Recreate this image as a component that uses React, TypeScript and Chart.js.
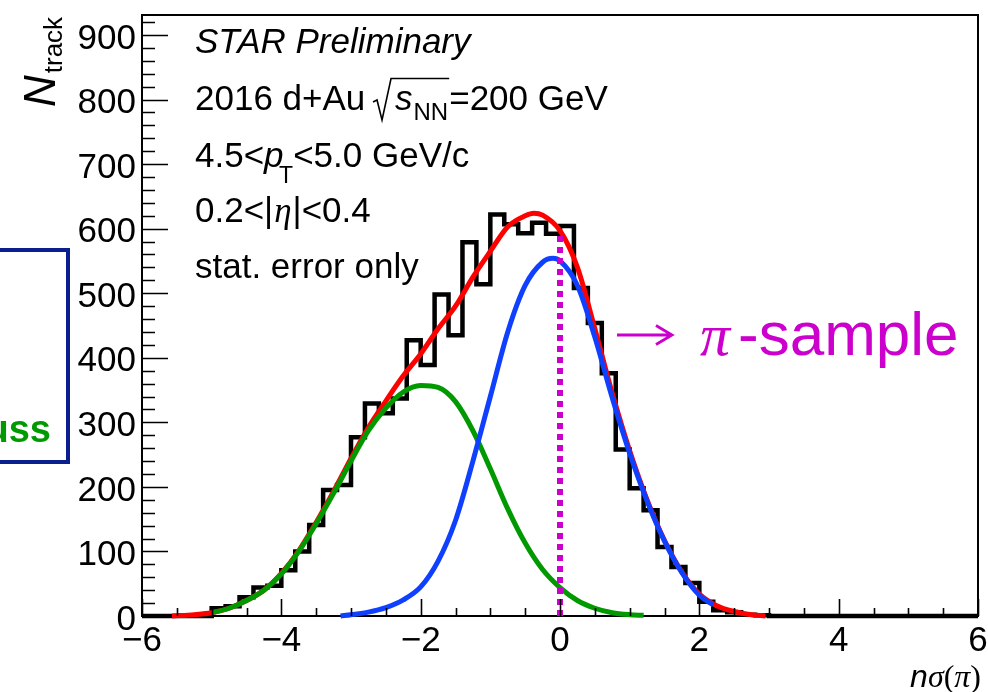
import React, { useEffect, useRef } from 'react';
import { Chart, registerables } from 'chart.js';

Chart.register(...registerables);

// ---------------- data ----------------
const BIN_START = -6;
const BIN_WIDTH = 0.2;
// counts per 0.2-wide bin from -6.0 to 6.0 (60 bins)
const COUNTS = [
  0, 0, 0, 0, 0,
  12, 15, 29, 44, 47, 71, 100, 141, 195, 203,
  277, 329, 314, 337, 427, 389, 498, 435, 579, 514,
  622, 607, 593, 609, 592, 604, 508, 454, 376, 258,
  198, 164, 107, 76, 51, 22, 9, 6, 2, 1,
  0, 0, 0, 0, 0, 0, 0, 0, 0, 0, 0, 0, 0, 0, 0,
];

const RED_X = [-5.57, -5.25, -5.0, -4.75, -4.5, -4.25, -4.0, -3.75, -3.5, -3.25, -3.0, -2.75, -2.5, -2.25, -2.0, -1.75, -1.5, -1.25, -1.0, -0.75, -0.5, -0.375, -0.25, 0.0, 0.25, 0.5, 0.75, 1.0, 1.25, 1.5, 1.75, 2.0, 2.25, 2.5, 2.75, 2.95];
const RED_Y = [0, 2, 5, 12, 24, 40, 66, 101, 145, 193, 244, 292, 333, 372, 406, 445, 480, 525, 565, 603, 620, 624, 621, 597, 540, 445, 345, 256, 180, 117, 68, 34, 16, 7, 2, 0];

const GREEN_X = [-5.0, -4.75, -4.5, -4.25, -4.0, -3.75, -3.5, -3.25, -3.0, -2.75, -2.5, -2.25, -2.0, -1.75, -1.5, -1.25, -1.0, -0.75, -0.5, -0.25, 0.0, 0.25, 0.5, 0.75, 1.0, 1.2];
const GREEN_Y = [5, 12, 24, 40, 65, 100, 143, 190, 240, 287, 322, 347, 357, 354, 332, 287, 228, 166, 113, 72, 44, 24, 12, 5, 2, 1];

const BLUE_X = [-3.15, -3.0, -2.75, -2.5, -2.25, -2.0, -1.75, -1.5, -1.25, -1.0, -0.75, -0.5, -0.25, -0.1, 0.0, 0.25, 0.5, 0.75, 1.0, 1.25, 1.5, 1.75, 2.0, 2.2];
const BLUE_Y = [0, 2, 6, 13, 25, 45, 85, 148, 240, 340, 440, 512, 548, 554, 550, 512, 432, 338, 252, 178, 116, 67, 32, 17];

const CUT_X = [0, 0];
const CUT_Y = [0, 590];

const X_TICKS = [-6, -4, -2, 0, 2, 4, 6];
const Y_TICKS = [0, 100, 200, 300, 400, 500, 600, 700, 800, 900];
const X_MIN = -6;
const X_MAX = 6;
const Y_MIN = 0;
const Y_MAX = 931;

// ---------------- styles ----------------
const SANS = '"Liberation Sans", Arial, Helvetica, sans-serif';
const SERIF = '"Liberation Serif", "Times New Roman", serif';
const MAGENTA = '#cc00cc';
const GREEN = '#009900';
const BLUE = '#1040ff';
const RED = '#ff0000';

const zip = (xs: number[], ys: number[]) => xs.map((x, i) => ({ x, y: ys[i] }));

type Run = { t: string; f: string; dx?: number; dy?: number };
function drawRuns(ctx: CanvasRenderingContext2D, x: number, y: number, runs: Run[]) {
  let cx = x;
  for (const r of runs) {
    ctx.font = r.f;
    cx += r.dx || 0;
    ctx.fillText(r.t, cx, y + (r.dy || 0));
    cx += ctx.measureText(r.t).width;
  }
  return cx;
}

const decorPlugin = {
  id: 'decor',
  beforeDatasetsDraw(chart: any) {
    const { ctx, chartArea: a } = chart;
    ctx.save();
    ctx.strokeStyle = '#000';
    ctx.lineWidth = 2;
    ctx.strokeRect(a.left, a.top, a.right - a.left, a.bottom - a.top);
    ctx.restore();
  },
  afterDraw(chart: any) {
    const { ctx, chartArea: a, scales } = chart;
    const xs = scales.x;
    const ys = scales.y;
    ctx.save();
    // ticks (inward)
    ctx.strokeStyle = '#000';
    ctx.lineWidth = 1.6;
    ctx.beginPath();
    for (let v = 0; v <= 920 + 1e-6; v += 20) {
      const y = Math.round(ys.getPixelForValue(v)) + 0.5;
      const len = v % 100 === 0 ? 26 : 13;
      ctx.moveTo(a.left, y);
      ctx.lineTo(a.left + len, y);
    }
    for (let k = 0; k <= 24; k++) {
      const v = X_MIN + k * 0.5;
      const x = Math.round(xs.getPixelForValue(v)) + 0.5;
      const len = k % 4 === 0 ? 17 : 8;
      ctx.moveTo(x, a.bottom);
      ctx.lineTo(x, a.bottom - len);
    }
    ctx.stroke();

    // text block
    ctx.fillStyle = '#000';
    ctx.textAlign = 'left';
    ctx.textBaseline = 'alphabetic';
    const F = `35px ${SANS}`;
    const FI = `italic 35px ${SANS}`;
    ctx.font = FI;
    ctx.fillText('STAR Preliminary', 195, 53);

    let cx = drawRuns(ctx, 195, 110, [{ t: '2016 d+Au ', f: F }]);
    const sx = cx - 2;
    // sqrt sign
    ctx.lineWidth = 1.6;
    ctx.beginPath();
    ctx.moveTo(sx, 102);
    ctx.lineTo(sx + 4, 100);
    ctx.lineTo(sx + 9, 120);
    ctx.lineTo(sx + 18, 78.5);
    const sStart = sx + 22;
    ctx.font = FI;
    const sW = ctx.measureText('s').width;
    ctx.font = `24px ${SANS}`;
    const nnW = ctx.measureText('NN').width;
    const end = sStart + sW + 1 + nnW + 1;
    ctx.lineTo(end, 78.5);
    ctx.stroke();
    ctx.font = FI;
    ctx.fillText('s', sStart, 110);
    ctx.font = `24px ${SANS}`;
    ctx.fillText('NN', sStart + sW + 1, 120);
    ctx.font = F;
    ctx.fillText('=200 GeV', end, 110);

    cx = drawRuns(ctx, 195, 167, [{ t: '4.5<', f: F }]);
    ctx.font = FI;
    ctx.fillText('p', cx, 167);
    ctx.font = `23px ${SANS}`;
    ctx.fillText('T', cx + 15, 183);
    const tw = ctx.measureText('T').width;
    ctx.font = F;
    ctx.fillText('<5.0 GeV/c', cx + 15 + tw, 167);

    drawRuns(ctx, 195, 222, [
      { t: '0.2<|', f: F },
      { t: 'η', f: `italic 35px ${SERIF}`, dx: 1 },
      { t: '|<0.4', f: F, dx: 1 },
    ]);

    ctx.font = F;
    ctx.fillText('stat. error only', 195, 278);

    // pi-sample annotation
    ctx.strokeStyle = MAGENTA;
    ctx.fillStyle = MAGENTA;
    ctx.lineWidth = 2.8;
    ctx.beginPath();
    ctx.moveTo(617, 335);
    ctx.lineTo(671, 335);
    ctx.moveTo(656, 325.5);
    ctx.lineTo(672, 335);
    ctx.lineTo(656, 344.5);
    ctx.stroke();
    ctx.font = `italic 60px ${SERIF}`;
    ctx.fillText('π', 700, 355);
    ctx.font = `62px ${SANS}`;
    ctx.fillText('-sample', 738, 355);

    // left box fragment
    ctx.strokeStyle = '#0b1e8e';
    ctx.lineWidth = 4;
    ctx.strokeRect(-10, 250, 78, 212);
    ctx.fillStyle = GREEN;
    ctx.font = `bold 38px ${SANS}`;
    ctx.textAlign = 'right';
    ctx.fillText('Gauss', 51, 442);

    // x title
    ctx.fillStyle = '#000';
    ctx.textAlign = 'left';
    const xr: Run[] = [
      { t: 'n', f: `italic 32px ${SANS}` },
      { t: 'σ', f: `italic 32px ${SERIF}` },
      { t: '(', f: `32px ${SERIF}` },
      { t: 'π', f: `italic 32px ${SERIF}` },
      { t: ')', f: `32px ${SERIF}` },
    ];
    let tot = 0;
    for (const r of xr) { ctx.font = r.f; tot += ctx.measureText(r.t).width; }
    drawRuns(ctx, 981 - tot, 687, xr);

    // y title
    ctx.save();
    ctx.translate(55, 107);
    ctx.rotate(-Math.PI / 2);
    ctx.font = `italic 44px ${SANS}`;
    ctx.fillText('N', 0, 0);
    const nW = ctx.measureText('N').width;
    ctx.font = `26px ${SANS}`;
    ctx.fillText('track', nW + 2, 7);
    ctx.restore();

    ctx.restore();
  },
};

const fmt = (v: number) => (v < 0 ? '\u2212' + Math.abs(v) : String(v));

const zeroPad = (s: any) => {
  s.paddingTop = 0;
  s.paddingBottom = 0;
  s.paddingLeft = 0;
  s.paddingRight = 0;
};

export default function App() {
  const ref = useRef<HTMLCanvasElement>(null);
  useEffect(() => {
    const canvas = ref.current;
    if (!canvas) return;
    const histData = COUNTS.map((c, i) => ({ x: BIN_START + i * BIN_WIDTH, y: c }));
    histData.push({ x: BIN_START + COUNTS.length * BIN_WIDTH, y: COUNTS[COUNTS.length - 1] });

    const curve = (data: any, color: string, order: number) => ({
      data,
      borderColor: color,
      borderWidth: 5,
      pointRadius: 0,
      fill: false,
      cubicInterpolationMode: 'monotone' as const,
      order,
      clip: false as any,
    });

    const chart = new Chart(canvas, {
      type: 'line',
      data: {
        datasets: [
          {
            data: histData,
            borderColor: '#000',
            borderWidth: 4.5,
            pointRadius: 0,
            stepped: true,
            fill: false,
            order: 5,
            clip: false as any,
            borderJoinStyle: 'miter',
          } as any,
          curve(zip(RED_X, RED_Y), RED, 4),
          curve(zip(GREEN_X, GREEN_Y), GREEN, 3),
          curve(zip(BLUE_X, BLUE_Y), BLUE, 2),
          {
            data: zip(CUT_X, CUT_Y),
            borderColor: MAGENTA,
            borderWidth: 6,
            borderDash: [6, 5],
            pointRadius: 0,
            fill: false,
            order: 1,
            borderCapStyle: 'butt',
          } as any,
        ],
      },
      options: {
        responsive: false,
        animation: false,
        layout: { padding: { left: 0, right: 10, top: 15, bottom: 0 } },
        plugins: { legend: { display: false }, tooltip: { enabled: false } },
        scales: {
          x: {
            type: 'linear',
            min: X_MIN,
            max: X_MAX,
            afterBuildTicks: (s: any) => { s.ticks = X_TICKS.map((v) => ({ value: v })); },
            afterFit: (s: any) => { s.height = 76; zeroPad(s); },
            grid: { display: false, drawTicks: false },
            border: { display: false },
            ticks: {
              autoSkip: false,
              maxRotation: 0,
              padding: 4,
              color: '#000',
              font: { family: SANS, size: 35 },
              callback: (v: any) => fmt(Number(v)),
            },
          },
          y: {
            type: 'linear',
            min: Y_MIN,
            max: Y_MAX,
            afterBuildTicks: (s: any) => { s.ticks = Y_TICKS.map((v) => ({ value: v })); },
            afterFit: (s: any) => { s.width = 142; zeroPad(s); },
            grid: { display: false, drawTicks: false },
            border: { display: false },
            ticks: {
              autoSkip: false,
              padding: 6,
              labelOffset: 4,
              color: '#000',
              font: { family: SANS, size: 35 },
              callback: (v: any) => String(v),
            },
          },
        },
      },
      plugins: [decorPlugin],
    });
    return () => chart.destroy();
  }, []);

  return (
    <div style={{ position: 'fixed', left: 0, top: 0, width: 988, height: 692, background: '#fff' }}>
      <canvas ref={ref} width={988} height={692} style={{ display: 'block', width: 988, height: 692 }} />
    </div>
  );
}
